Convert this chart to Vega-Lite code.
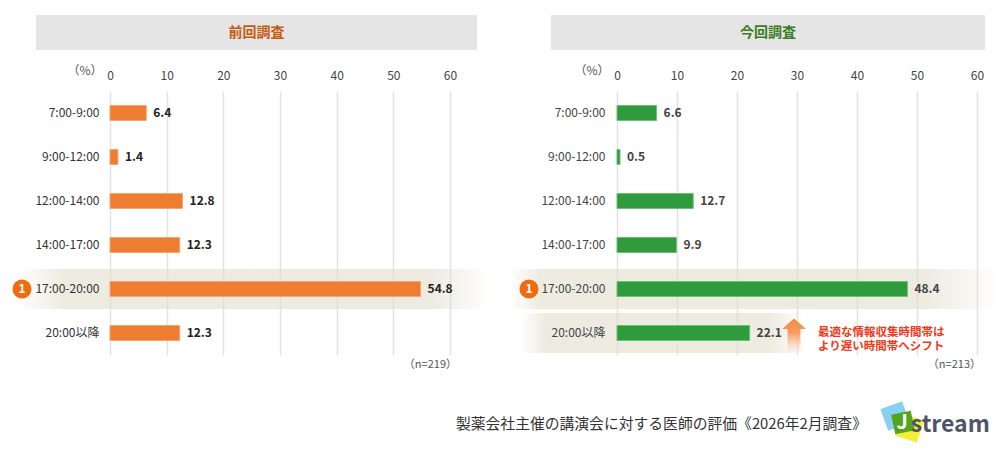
{
  "$schema": "https://vega.github.io/schema/vega-lite/v6.json",
  "padding": {"left": 12, "top": 15, "right": 5, "bottom": 0},
  "autosize": {"type": "pad"},
  "config": {"font": "Noto Sans CJK JP", "view": {"stroke": null}},
  "datasets": {
    "prev": [
      {"slot": "7:00-9:00", "value": 6.4},
      {"slot": "9:00-12:00", "value": 1.4},
      {"slot": "12:00-14:00", "value": 12.8},
      {"slot": "14:00-17:00", "value": 12.3},
      {"slot": "17:00-20:00", "value": 54.8},
      {"slot": "20:00以降", "value": 12.3}
    ],
    "curr": [
      {"slot": "7:00-9:00", "value": 6.6},
      {"slot": "9:00-12:00", "value": 0.5},
      {"slot": "12:00-14:00", "value": 12.7},
      {"slot": "14:00-17:00", "value": 9.9},
      {"slot": "17:00-20:00", "value": 48.4},
      {"slot": "20:00以降", "value": 22.1}
    ]
  },
  "columns": 2,
  "spacing": {"row": 41, "column": 74},
  "bounds": "flush",
  "concat": [
    {
      "width": 441, "height": 35,
      "view": {"fill": "#e5e5e5", "stroke": null},
      "data": {"values": [{"t": "前回調査"}]},
      "mark": {"type": "text", "fontSize": 14, "fontWeight": "bold", "color": "#c55a11", "baseline": "middle"},
      "encoding": {"text": {"field": "t"}}
    },
    {
      "width": 434, "height": 35,
      "view": {"fill": "#e5e5e5", "stroke": null},
      "data": {"values": [{"t": "今回調査"}]},
      "mark": {"type": "text", "fontSize": 14, "fontWeight": "bold", "color": "#3c7d22", "baseline": "middle"},
      "encoding": {"text": {"field": "t"}}
    },
    {
      "width": 441, "height": 264,
      "data": {"name": "prev"},
      "title": {"text": "（n=219）", "orient": "bottom", "anchor": "end", "frame": "group", "fontSize": 11, "fontWeight": "normal", "color": "#555", "offset": 4, "dx": -20},
      "encoding": {
        "y": {"field": "slot", "type": "nominal",
          "scale": {"domain": ["7:00-9:00", "9:00-12:00", "12:00-14:00", "14:00-17:00", "17:00-20:00", "20:00以降"], "paddingInner": 0, "paddingOuter": 0},
          "axis": {"title": null, "orient": "left", "offset": -63, "zindex": 1, "ticks": false, "tickSize": 0, "domain": false, "grid": false, "labelPadding": 0, "labelFontSize": 12, "labelColor": "#333"}}
      },
      "layer": [
        {
          "transform": [{"filter": "datum.slot === '17:00-20:00'"}],
          "mark": {"type": "bar", "height": 40, "fill": {"gradient": "linear", "x1": 0, "y1": 0, "x2": 1, "y2": 0, "stops": [
            {"offset": 0, "color": "rgba(226,222,204,0)"},
            {"offset": 0.1, "color": "rgba(226,222,204,0.6)"},
            {"offset": 0.88, "color": "rgba(226,222,204,0.6)"},
            {"offset": 1, "color": "rgba(226,222,204,0)"}]}},
          "encoding": {"x": {"datum": -16.6, "type": "quantitative"}, "x2": {"datum": 67}}
        },
        {
          "mark": {"type": "bar", "height": 15, "color": "#ee7d31", "stroke": "#f5a672", "strokeWidth": 1},
          "encoding": {
            "x": {"field": "value", "type": "quantitative",
              "scale": {"domain": [-13.06, 64.76], "nice": false, "zero": false},
              "axis": {"orient": "top", "values": [0, 10, 20, 30, 40, 50, 60], "grid": true, "gridColor": "#e3e3e3", "gridWidth": 1.5, "domain": false, "ticks": false, "tickSize": 0, "labelPadding": 9, "labelFontSize": 12, "labelColor": "#444",
                "title": "（%）", "titleX": 66, "titleY": -21, "titleAlign": "right", "titleBaseline": "middle", "titleFontSize": 12, "titleFontWeight": "normal", "titleColor": "#555"}}
          }
        },
        {
          "mark": {"type": "text", "align": "left", "dx": 7, "fontWeight": "bold", "fontSize": 12, "color": "#222"},
          "encoding": {"x": {"field": "value", "type": "quantitative"}, "text": {"field": "value", "format": ".1f"}}
        },
        {
          "transform": [{"filter": "datum.slot === '17:00-20:00'"}],
          "mark": {"type": "point", "shape": "circle", "filled": true, "size": 361, "color": "#f26b10", "opacity": 1},
          "encoding": {"x": {"datum": -15.53, "type": "quantitative"}}
        },
        {
          "transform": [{"filter": "datum.slot === '17:00-20:00'"}],
          "mark": {"type": "text", "fontWeight": "bold", "fontSize": 12, "color": "#ffffff"},
          "encoding": {"x": {"datum": -15.53, "type": "quantitative"}, "text": {"value": "1"}}
        }
      ]
    },
    {
      "width": 434, "height": 264,
      "data": {"name": "curr"},
      "title": {"text": "（n=213）", "orient": "bottom", "anchor": "end", "frame": "group", "fontSize": 11, "fontWeight": "normal", "color": "#555", "offset": 4, "dx": -4},
      "encoding": {
        "y": {"field": "slot", "type": "nominal",
          "scale": {"domain": ["7:00-9:00", "9:00-12:00", "12:00-14:00", "14:00-17:00", "17:00-20:00", "20:00以降"], "paddingInner": 0, "paddingOuter": 0},
          "axis": {"title": null, "orient": "left", "offset": -54, "zindex": 1, "ticks": false, "tickSize": 0, "domain": false, "grid": false, "labelPadding": 0, "labelFontSize": 12, "labelColor": "#444"}}
      },
      "layer": [
        {
          "transform": [{"filter": "datum.slot === '17:00-20:00'"}],
          "mark": {"type": "bar", "height": 40, "fill": {"gradient": "linear", "x1": 0, "y1": 0, "x2": 1, "y2": 0, "stops": [
            {"offset": 0, "color": "rgba(226,222,204,0)"},
            {"offset": 0.06, "color": "rgba(226,222,204,0.6)"},
            {"offset": 0.85, "color": "rgba(226,222,204,0.6)"},
            {"offset": 1, "color": "rgba(226,222,204,0)"}]}},
          "encoding": {"x": {"datum": -17.8, "type": "quantitative"}, "x2": {"datum": 63.8}}
        },
        {
          "transform": [{"filter": "datum.slot === '20:00以降'"}],
          "mark": {"type": "bar", "height": 40, "fill": {"gradient": "linear", "x1": 0, "y1": 0, "x2": 1, "y2": 0, "stops": [
            {"offset": 0, "color": "rgba(226,222,204,0)"},
            {"offset": 0.09, "color": "rgba(226,222,204,0.6)"},
            {"offset": 0.88, "color": "rgba(226,222,204,0.6)"},
            {"offset": 1, "color": "rgba(226,222,204,0)"}]}},
          "encoding": {"x": {"datum": -16.2, "type": "quantitative"}, "x2": {"datum": 31.3}}
        },
        {
          "mark": {"type": "bar", "height": 15, "color": "#2f9b3c", "stroke": "#6cc074", "strokeWidth": 1},
          "encoding": {
            "x": {"field": "value", "type": "quantitative",
              "scale": {"domain": [-11, 61.33], "nice": false, "zero": false},
              "axis": {"orient": "top", "values": [0, 10, 20, 30, 40, 50, 60], "grid": true, "gridColor": "#e3e3e3", "gridWidth": 1.5, "domain": false, "ticks": false, "tickSize": 0, "labelPadding": 9, "labelFontSize": 12, "labelColor": "#444",
                "title": "（%）", "titleX": 58, "titleY": -21, "titleAlign": "right", "titleBaseline": "middle", "titleFontSize": 12, "titleFontWeight": "normal", "titleColor": "#555"}}
          }
        },
        {
          "mark": {"type": "text", "align": "left", "dx": 7, "fontWeight": "bold", "fontSize": 12, "color": "#444"},
          "encoding": {"x": {"field": "value", "type": "quantitative"}, "text": {"field": "value", "format": ".1f"}}
        },
        {
          "transform": [{"filter": "datum.slot === '17:00-20:00'"}],
          "mark": {"type": "point", "shape": "circle", "filled": true, "size": 361, "color": "#f26b10", "opacity": 1},
          "encoding": {"x": {"datum": -14.67, "type": "quantitative"}}
        },
        {
          "transform": [{"filter": "datum.slot === '17:00-20:00'"}],
          "mark": {"type": "text", "fontWeight": "bold", "fontSize": 12, "color": "#ffffff"},
          "encoding": {"x": {"datum": -14.67, "type": "quantitative"}, "text": {"value": "1"}}
        },
        {
          "transform": [{"filter": "datum.slot === '20:00以降'"}],
          "mark": {"type": "point", "shape": "M0,-1 L0.69,-0.4 L0.37,-0.4 L0.37,1 L-0.37,1 L-0.37,-0.4 L-0.69,-0.4 Z", "filled": true, "size": 1225, "opacity": 1, "yOffset": 3, "strokeWidth": 0,
            "fill": {"gradient": "linear", "x1": 0, "y1": 0, "x2": 0, "y2": 1, "stops": [
              {"offset": 0, "color": "#f58a45"},
              {"offset": 0.4, "color": "#f79c5e"},
              {"offset": 1, "color": "rgba(250,200,160,0)"}]}},
          "encoding": {"x": {"datum": 29.5, "type": "quantitative"}}
        },
        {
          "transform": [{"filter": "datum.slot === '20:00以降'"}],
          "mark": {"type": "text", "align": "left", "baseline": "middle", "fontSize": 11.5, "fontWeight": "bold", "color": "#f0381a", "lineHeight": 14,
            "text": ["最適な情報収集時間帯は", "より遅い時間帯へシフト"]},
          "encoding": {"x": {"datum": 33.5, "type": "quantitative"}}
        }
      ]
    },
    {
      "width": 441, "height": 50,
      "view": {"stroke": null},
      "data": {"values": [{}]},
      "mark": {"type": "text", "text": ""}
    },
    {
      "width": 434, "height": 50,
      "view": {"stroke": null},
      "data": {"values": [{}]},
      "encoding": {
        "x": {"type": "quantitative", "scale": {"domain": [0, 100], "nice": false}, "axis": null},
        "y": {"type": "quantitative", "scale": {"domain": [0, 1], "nice": false}, "axis": null}
      },
      "layer": [
        {
          "mark": {"type": "text", "align": "right", "baseline": "middle", "fontSize": 14.8, "color": "#333", "text": "製薬会社主催の講演会に対する医師の評価《2026年2月調査》"},
          "encoding": {"x": {"datum": 72.8, "type": "quantitative"}, "y": {"datum": 0.42, "type": "quantitative"}}
        },
        {
          "mark": {"type": "point", "shape": "square", "filled": true, "size": 529, "angle": -20, "color": "#86d0f0", "opacity": 1},
          "encoding": {"x": {"datum": 79.3, "type": "quantitative"}, "y": {"datum": 0.6, "type": "quantitative"}}
        },
        {
          "mark": {"type": "point", "shape": "square", "filled": true, "size": 529, "angle": 18, "color": "#f2ee3a", "opacity": 1},
          "encoding": {"x": {"datum": 82.6, "type": "quantitative"}, "y": {"datum": 0.36, "type": "quantitative"}}
        },
        {
          "mark": {"type": "point", "shape": "square", "filled": true, "size": 400, "angle": -12, "color": "#55a41e", "opacity": 1},
          "encoding": {"x": {"datum": 81.1, "type": "quantitative"}, "y": {"datum": 0.47, "type": "quantitative"}}
        },
        {
          "mark": {"type": "text", "align": "center", "baseline": "middle", "fontSize": 20, "fontWeight": "bold", "color": "#ffffff", "text": "J"},
          "encoding": {"x": {"datum": 80.9, "type": "quantitative"}, "y": {"datum": 0.47, "type": "quantitative"}}
        },
        {
          "mark": {"type": "text", "align": "left", "baseline": "middle", "fontSize": 23, "fontWeight": "bold", "color": "#50546a", "text": "stream"},
          "encoding": {"x": {"datum": 82.9, "type": "quantitative"}, "y": {"datum": 0.42, "type": "quantitative"}}
        }
      ]
    }
  ]
}
